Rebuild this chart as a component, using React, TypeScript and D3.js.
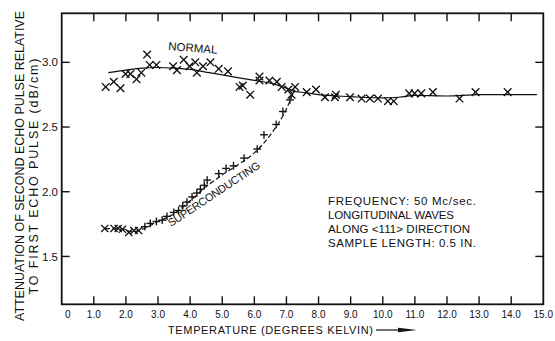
import React, { useEffect } from 'react';
import * as d3 from 'd3';

// Ultrasonic attenuation vs temperature, normal and superconducting states

const WIDTH = 555;
const HEIGHT = 341;

// normal state readings (temperature K, attenuation dB/cm)
const normalT = [
  1.37, 1.62, 1.83, 1.99, 2.14, 2.33, 2.48, 2.66, 2.74, 2.95, 3.47, 3.59, 3.8, 3.98, 4.16, 4.21,
  4.4, 4.63, 4.89, 5.18, 5.54, 5.64, 5.87, 6.16, 6.16, 6.47, 6.7, 6.85, 7.06, 7.16, 7.27, 7.63,
  7.92, 8.2, 8.51, 8.54, 8.98, 9.34, 9.6, 9.85, 10.16, 10.34, 10.82, 10.99, 11.2, 11.56, 12.39,
  12.89, 13.89,
];
const normalV = [
  2.81, 2.85, 2.8, 2.91, 2.91, 2.87, 2.92, 3.06, 2.98, 2.98, 2.97, 2.94, 3.02, 2.97, 3.0, 2.92,
  2.97, 3.0, 2.95, 2.93, 2.81, 2.82, 2.75, 2.89, 2.86, 2.86, 2.85, 2.81, 2.79, 2.75, 2.81, 2.77,
  2.79, 2.73, 2.73, 2.75, 2.73, 2.72, 2.72, 2.72, 2.7, 2.7, 2.76, 2.76, 2.76, 2.77, 2.72, 2.77,
  2.77,
];

// superconducting state readings
const superT = [
  1.34, 1.63, 1.76, 1.89, 2.09, 2.25, 2.4, 2.59, 2.76, 2.95, 3.13, 3.28, 3.49, 3.64, 3.77, 3.9,
  4.06, 4.21, 4.32, 4.44, 4.53, 4.89, 5.12, 5.35, 5.68, 6.09, 6.3, 6.68, 6.89, 7.11,
];
const superV = [
  1.716, 1.716, 1.716, 1.71, 1.685, 1.7, 1.7, 1.73, 1.755, 1.77, 1.78, 1.81, 1.84, 1.855, 1.89,
  1.92, 1.96, 1.99, 2.02, 2.05, 2.09, 2.14, 2.18, 2.2, 2.26, 2.33, 2.44, 2.52, 2.62, 2.71,
];
const superCrossCount = 7; // the lowest readings are plotted as x, the rest as +

// hand-drawn curves through the data
const normalFitT = [1.45, 2.0, 2.5, 3.0, 3.5, 4.0, 4.6, 5.3, 6.0, 6.5, 6.9, 7.2, 7.6, 8.0, 9.0, 10.0, 10.5, 11.0, 12.0, 13.0, 14.8];
const normalFitV = [2.92, 2.94, 2.955, 2.96, 2.955, 2.945, 2.92, 2.89, 2.86, 2.84, 2.81, 2.78, 2.765, 2.75, 2.735, 2.725, 2.73, 2.745, 2.74, 2.75, 2.75];
const superFitT = [1.35, 1.9, 2.2, 2.5, 3.0, 3.5, 4.0, 4.5, 5.0, 5.5, 6.0, 6.5, 7.0, 7.25];
const superFitV = [1.715, 1.71, 1.69, 1.71, 1.77, 1.83, 1.93, 2.04, 2.13, 2.21, 2.3, 2.44, 2.64, 2.79];

const xTickValues = d3.range(0, 16);
const xTickLabels = xTickValues.map((d) => (d === 0 ? '0' : d.toFixed(1)));
const yTickValues = [1.5, 2.0, 2.5, 3.0];
const yTickLabels = ['1.5', '2.0', '2.5', '3.0'];

const yTitleLines = ['ATTENUATION OF SECOND ECHO PULSE RELATIVE', 'TO FIRST ECHO PULSE (dB/cm)'];
const xTitle = 'TEMPERATURE (DEGREES KELVIN)';
const noteLines = ['FREQUENCY: 50 Mc/sec.', 'LONGITUDINAL  WAVES', 'ALONG <111> DIRECTION', 'SAMPLE LENGTH: 0.5 IN.'];
const noteWidths = [148, 126, 142, 148];

const FONT = '"Liberation Sans", Arial, sans-serif';
const INK = '#111';

const Cross = ({ x, y, r, plus }: { x: number; y: number; r: number; plus?: boolean }) =>
  plus ? (
    <g stroke={INK} strokeWidth={1.35}>
      <line x1={x - r} y1={y} x2={x + r} y2={y} />
      <line x1={x} y1={y - r} x2={x} y2={y + r} />
    </g>
  ) : (
    <g stroke={INK} strokeWidth={1.35}>
      <line x1={x - r} y1={y - r} x2={x + r} y2={y + r} />
      <line x1={x - r} y1={y + r} x2={x + r} y2={y - r} />
    </g>
  );

export default function App() {
  useEffect(() => {
    document.body.style.margin = '0';
    document.body.style.background = '#fff';
  }, []);

  const left = 61.7;
  const right = 543.3;
  const top = 13.3;
  const bottom = 304.3;

  const x = d3.scaleLinear().domain([0, 15]).range([left, right]);
  const y = d3.scaleLinear().domain([1.13, 3.379]).range([bottom, top]);

  const line = d3
    .line<[number, number]>()
    .x((d) => x(d[0]))
    .y((d) => y(d[1]))
    .curve(d3.curveMonotoneX);

  const normalFit = line(normalFitT.map((t, i) => [t, normalFitV[i]]));
  const superFit = line(superFitT.map((t, i) => [t, superFitV[i]]));

  const tick = 8;

  return (
    <svg width={WIDTH} height={HEIGHT} style={{ display: 'block', background: '#fff' }} fontFamily={FONT}>
      {/* frame */}
      <rect x={left} y={top} width={right - left} height={bottom - top} fill="none" stroke={INK} strokeWidth={1.8} />

      {/* x ticks on top and bottom, pointing in */}
      {xTickValues.slice(1, -1).map((d) => (
        <g key={`xt${d}`} stroke={INK} strokeWidth={1.4}>
          <line x1={x(d)} x2={x(d)} y1={bottom} y2={bottom - tick} />
          <line x1={x(d)} x2={x(d)} y1={top} y2={top + tick} />
        </g>
      ))}
      {xTickValues.map((d, i) => (
        <text key={`xl${d}`} x={x(d) + (d === 0 ? 6 : 0)} y={318} fontSize={10} textAnchor="middle" fill={INK}>
          {xTickLabels[i]}
        </text>
      ))}

      {/* y ticks on left and right */}
      {yTickValues.map((d, i) => (
        <g key={`yt${d}`}>
          <line x1={left} x2={left + tick} y1={y(d)} y2={y(d)} stroke={INK} strokeWidth={1.4} />
          <line x1={right} x2={right - tick} y1={y(d)} y2={y(d)} stroke={INK} strokeWidth={1.4} />
          <text x={58} y={y(d)} dy="0.36em" fontSize={11.5} textAnchor="end" fill={INK}>
            {yTickLabels[i]}
          </text>
        </g>
      ))}

      {/* axis titles */}
      <text transform="translate(23.5,166) rotate(-90)" fontSize={12.5} textAnchor="middle" fill={INK} textLength={310} lengthAdjust="spacing">
        {yTitleLines[0]}
      </text>
      <text transform="translate(38,176.5) rotate(-90)" fontSize={12.5} textAnchor="middle" fill={INK} textLength={236} lengthAdjust="spacing">
        {yTitleLines[1]}
      </text>
      <text x={168} y={334} fontSize={11} fill={INK} textLength={205} lengthAdjust="spacing">
        {xTitle}
      </text>
      <line x1={376} x2={400} y1={330} y2={330} stroke={INK} strokeWidth={1.2} />
      <path d="M398,327.8 L417,330 L398,332.2 Z" fill={INK} />

      {/* fitted curves */}
      <path d={normalFit ?? ''} fill="none" stroke={INK} strokeWidth={1.2} />
      <path d={superFit ?? ''} fill="none" stroke={INK} strokeWidth={1.2} strokeDasharray="5,2.5" />

      {/* readings */}
      {normalT.map((t, i) => (
        <Cross key={`n${i}`} x={x(t)} y={y(normalV[i])} r={3.8} />
      ))}
      {superT.map((t, i) => (
        <Cross key={`s${i}`} x={x(t)} y={y(superV[i])} r={i < superCrossCount ? 3.6 : 3.9} plus={i >= superCrossCount} />
      ))}

      {/* curve labels */}
      <text transform="translate(168,50) rotate(4.5)" fontSize={11.5} fill={INK}>
        NORMAL
      </text>
      <text transform="translate(171,227) rotate(-33.5)" fontSize={11} fill={INK} textLength={108} lengthAdjust="spacing">
        SUPERCONDUCTING
      </text>

      {/* experiment notes */}
      {noteLines.map((s, i) => (
        <text key={`note${i}`} x={328} y={205 + i * 13.9} fontSize={11.5} fill={INK} textLength={noteWidths[i]} lengthAdjust="spacing">
          {s}
        </text>
      ))}
    </svg>
  );
}
